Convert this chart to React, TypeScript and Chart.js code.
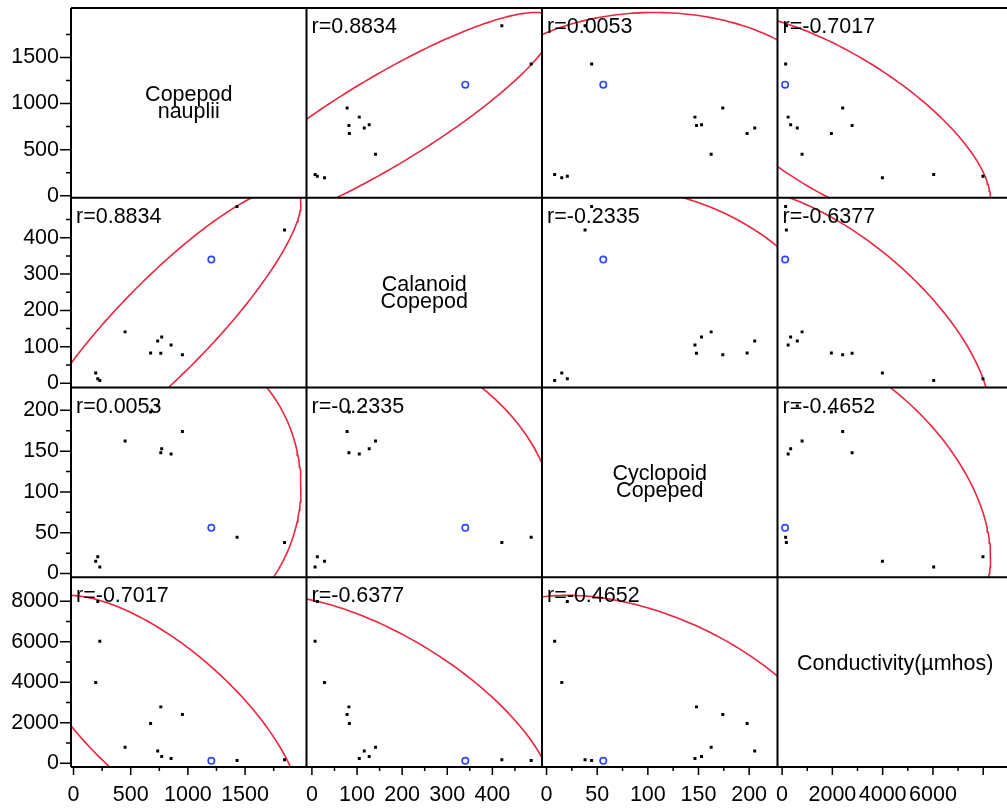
import React, { useEffect, useRef } from 'react';
import { Chart, registerables } from 'chart.js';

Chart.register(...registerables);

const FONT = '"Liberation Sans", Arial, sans-serif';
const FONT_SIZE = 21.5;

// Variable names shown on the diagonal of the matrix
const variableTitles = [
  ['Copepod', 'nauplii'],
  ['Calanoid', 'Copepod'],
  ['Cyclopoid', 'Copeped'],
  ['Conductivity(µmhos)'],
];

// Sampled rows (square markers)
const naupliiValues = [1845, 1430, 952, 853, 763, 771, 736, 674, 451, 230, 212, 194];
const calanoidValues = [421, 486, 78, 105, 82, 127, 116, 83, 141, 7, 12, 28];
const cyclopoidValues = [38, 44.5, 174, 146.5, 148, 153, 205.5, 198, 162.5, 8, 20.5, 15];
const conductivityValues = [170, 140, 2410, 240, 2785, 340, 605, 1960, 795, 6030, 7990, 3990];

// Highlighted row (nauplii, calanoid, cyclopoid, conductivity), drawn as an open circle
const highlightedRow = [1205, 340, 56, 120];

const correlationLabels = [
  ['', 'r=0.8834', 'r=0.0053', 'r=-0.7017'],
  ['r=0.8834', '', 'r=-0.2335', 'r=-0.6377'],
  ['r=0.0053', 'r=-0.2335', '', 'r=-0.4652'],
  ['r=-0.7017', 'r=-0.6377', 'r=-0.4652', ''],
];

const axisMin = [-22, -12, -4.5, -183];
const axisMax = [2037, 510, 228, 9185];
const majorTicks = [
  [0, 500, 1000, 1500],
  [0, 100, 200, 300, 400],
  [0, 50, 100, 150, 200],
  [0, 2000, 4000, 6000, 8000],
];
const minorTicks = [
  [250, 750, 1250, 1750],
  [50, 150, 250, 350, 450],
  [25, 75, 125, 175],
  [1000, 3000, 5000, 7000],
];
const xTickLabels = [
  [0, 500, 1000, 1500],
  [0, 100, 200, 300, 400],
  [0, 50, 100, 150, 200],
  [0, 2000, 4000, 6000],
];
const yTickLabels = [
  [0, 500, 1000, 1500],
  [0, 100, 200, 300, 400],
  [0, 50, 100, 150, 200],
  [0, 2000, 4000, 6000, 8000],
];

const RED = 'rgb(233, 38, 62)';
const BLUE = 'rgb(40, 70, 255)';

// 95% bivariate-normal density ellipse from sample mean and covariance
function densityEllipse(xv: number[], yv: number[], level = 0.95, steps = 240) {
  const n = xv.length;
  const mx = xv.reduce((a, b) => a + b, 0) / n;
  const my = yv.reduce((a, b) => a + b, 0) / n;
  let sxx = 0, syy = 0, sxy = 0;
  for (let k = 0; k < n; k++) {
    const dx = xv[k] - mx, dy = yv[k] - my;
    sxx += dx * dx; syy += dy * dy; sxy += dx * dy;
  }
  const sx = Math.sqrt(sxx / (n - 1));
  const sy = Math.sqrt(syy / (n - 1));
  const r = sxy / Math.sqrt(sxx * syy);
  const c = Math.sqrt(-2 * Math.log(1 - level));
  const pts: { x: number; y: number }[] = [];
  for (let s = 0; s <= steps; s++) {
    const t = (s / steps) * Math.PI * 2;
    pts.push({
      x: mx + c * sx * Math.cos(t),
      y: my + c * sy * (r * Math.cos(t) + Math.sqrt(1 - r * r) * Math.sin(t)),
    });
  }
  return pts;
}

const matrixDecor = {
  id: 'matrixDecor',
  afterDatasetsDraw(chart: any) {
    const ctx = chart.ctx as CanvasRenderingContext2D;
    const xs = [0, 1, 2, 3].map((k) => chart.scales['x' + k]);
    const ys = [0, 1, 2, 3].map((k) => chart.scales['y' + k]);
    ctx.save();
    ctx.fillStyle = '#000';
    ctx.font = `${FONT_SIZE}px ${FONT}`;
    ctx.textBaseline = 'alphabetic';

    for (let i = 0; i < 4; i++) {
      for (let j = 0; j < 4; j++) {
        const left = xs[j].left, right = xs[j].right;
        const top = ys[i].top, bottom = ys[i].bottom;
        if (i === j) {
          const cx = (left + right) / 2;
          const cy = (top + bottom) / 2;
          ctx.textAlign = 'center';
          variableTitles[i].forEach((line, k) => ctx.fillText(line, cx, cy - 2 + 17 * k));
        } else {
          ctx.textAlign = 'left';
          ctx.fillText(correlationLabels[i][j], left + 5, top + 25);
        }
      }
    }

    // panel frame
    ctx.strokeStyle = '#000';
    ctx.lineWidth = 2;
    ctx.beginPath();
    const top = ys[0].top, bottom = ys[3].bottom, left = xs[0].left, right = xs[3].right;
    for (let k = 0; k < 4; k++) {
      ctx.moveTo(xs[k].left, top); ctx.lineTo(xs[k].left, bottom);
      ctx.moveTo(left, ys[k].top); ctx.lineTo(right, ys[k].top);
    }
    ctx.moveTo(right, top); ctx.lineTo(right, bottom);
    ctx.moveTo(left, bottom); ctx.lineTo(right, bottom);
    ctx.stroke();

    // tick marks
    ctx.lineWidth = 1.5;
    ctx.beginPath();
    for (let k = 0; k < 4; k++) {
      majorTicks[k].forEach((v) => {
        const py = ys[k].getPixelForValue(v);
        ctx.moveTo(left - 11, py); ctx.lineTo(left, py);
        const px = xs[k].getPixelForValue(v);
        ctx.moveTo(px, bottom); ctx.lineTo(px, bottom + 8);
      });
      minorTicks[k].forEach((v) => {
        const py = ys[k].getPixelForValue(v);
        ctx.moveTo(left - 5, py); ctx.lineTo(left, py);
        const px = xs[k].getPixelForValue(v);
        ctx.moveTo(px, bottom); ctx.lineTo(px, bottom + 4);
      });
    }
    ctx.stroke();
    ctx.restore();
  },
};

function clearPadding(scale: any) {
  scale.paddingLeft = 0;
  scale.paddingRight = 0;
  scale.paddingTop = 0;
  scale.paddingBottom = 0;
}

export default function App() {
  const canvasRef = useRef<HTMLCanvasElement>(null);

  useEffect(() => {
    const variables = [naupliiValues, calanoidValues, cyclopoidValues, conductivityValues];
    const datasets: any[] = [];
    for (let i = 0; i < 4; i++) {
      for (let j = 0; j < 4; j++) {
        if (i === j) continue;
        const xv = variables[j];
        const yv = variables[i];
        datasets.push({
          data: xv.map((x, k) => ({ x, y: yv[k] })),
          xAxisID: 'x' + j,
          yAxisID: 'y' + i,
          pointStyle: 'rect',
          pointRadius: 2.1,
          backgroundColor: '#000',
          borderWidth: 0,
        });
        datasets.push({
          data: [{ x: highlightedRow[j], y: highlightedRow[i] }],
          xAxisID: 'x' + j,
          yAxisID: 'y' + i,
          pointStyle: 'circle',
          pointRadius: 3.2,
          borderColor: BLUE,
          borderWidth: 1.6,
          backgroundColor: 'rgba(0,0,0,0)',
        });
        datasets.push({
          data: densityEllipse([...xv, highlightedRow[j]], [...yv, highlightedRow[i]]),
          xAxisID: 'x' + j,
          yAxisID: 'y' + i,
          showLine: true,
          pointRadius: 0,
          borderColor: RED,
          borderWidth: 1.6,
          fill: false,
          clip: 0,
        });
      }
    }

    const scales: any = {};
    for (let k = 0; k < 4; k++) {
      scales['x' + k] = {
        type: 'linear',
        axis: 'x',
        position: 'bottom',
        stack: 'matrix',
        stackWeight: 1,
        weight: k + 1,
        offset: false,
        min: axisMin[k],
        max: axisMax[k],
        afterBuildTicks: (scale: any) => {
          scale.ticks = xTickLabels[k].map((v) => ({ value: v }));
        },
        afterFit: (scale: any) => {
          scale.height = 43;
          clearPadding(scale);
        },
        ticks: {
          autoSkip: false,
          maxRotation: 0,
          minRotation: 0,
          padding: 7,
          color: '#000',
          font: { family: FONT, size: FONT_SIZE },
          callback: (v: any) => String(v),
        },
        grid: {
          display: true,
          drawOnChartArea: false,
          drawTicks: true,
          tickLength: 8,
          color: 'rgba(0,0,0,0)',
          tickColor: 'rgba(0,0,0,0)',
        },
        border: { display: false },
      };
      scales['y' + k] = {
        type: 'linear',
        axis: 'y',
        position: 'left',
        stack: 'matrix',
        stackWeight: 1,
        weight: 4 - k,
        offset: false,
        min: axisMin[k],
        max: axisMax[k],
        afterBuildTicks: (scale: any) => {
          scale.ticks = yTickLabels[k].map((v) => ({ value: v }));
        },
        afterFit: (scale: any) => {
          scale.width = 71;
          clearPadding(scale);
        },
        ticks: {
          autoSkip: false,
          padding: 3,
          color: '#000',
          font: { family: FONT, size: FONT_SIZE },
          callback: (v: any) => String(v),
        },
        grid: {
          display: true,
          drawOnChartArea: false,
          drawTicks: true,
          tickLength: 9,
          color: 'rgba(0,0,0,0)',
          tickColor: 'rgba(0,0,0,0)',
        },
        border: { display: false },
      };
    }

    const chart = new Chart(canvasRef.current as HTMLCanvasElement, {
      type: 'scatter',
      data: { datasets },
      options: {
        animation: false,
        responsive: true,
        maintainAspectRatio: false,
        events: [],
        layout: { padding: { left: 0, top: 8, right: 7, bottom: 0 } },
        plugins: { legend: { display: false }, tooltip: { enabled: false } },
        scales,
      },
      plugins: [matrixDecor],
    });
    return () => chart.destroy();
  }, []);

  return (
    <div style={{ position: 'absolute', left: 0, top: 0, width: 1007, height: 810, overflow: 'hidden', background: '#fff' }}>
      <div style={{ position: 'relative', width: 1020, height: 810 }}>
        <canvas ref={canvasRef} />
      </div>
    </div>
  );
}
